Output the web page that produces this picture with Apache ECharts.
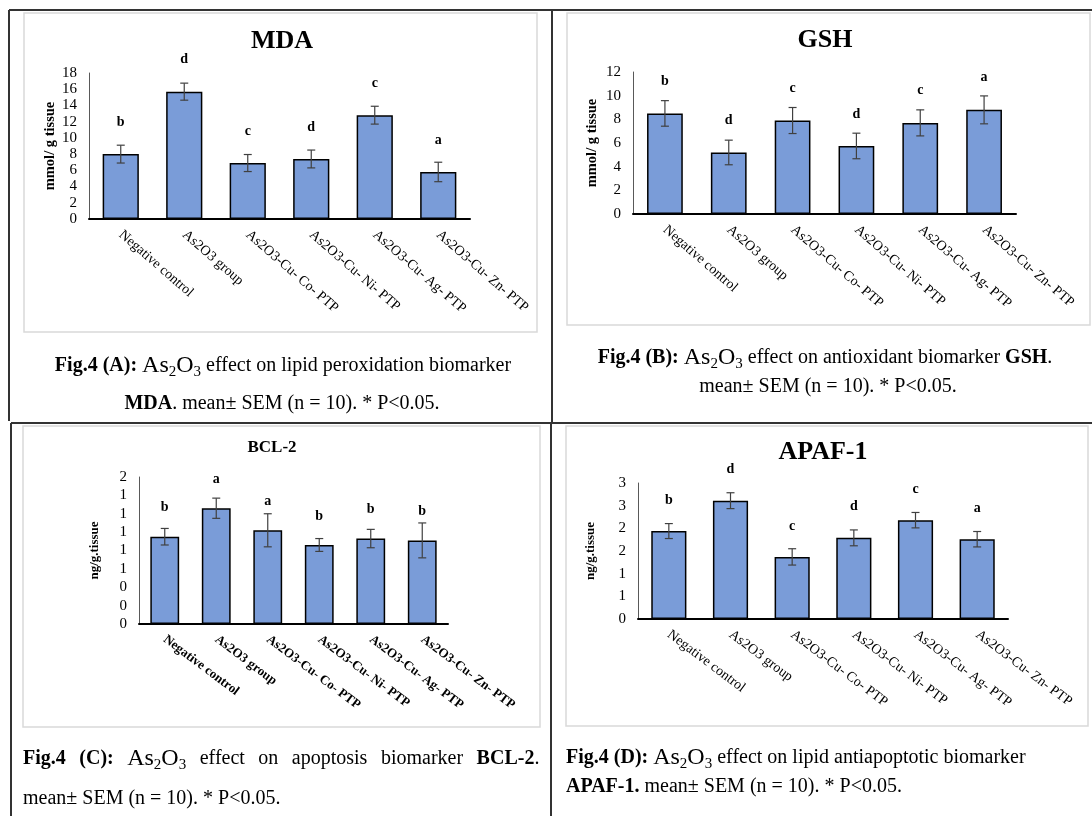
<!DOCTYPE html>
<html>
<head>
<meta charset="utf-8">
<script src="https://cdn.jsdelivr.net/npm/echarts@6/dist/echarts.min.js"></script>
<style>
html,body{margin:0;padding:0;background:#fff;}
#chart{width:1092px;height:816px;}
</style>
</head>
<body>
<div id="chart"></div>
<script>
// ---- data ----
const categories = ['Negative control', 'As2O3 group', 'As2O3-Cu- Co- PTP', 'As2O3-Cu- Ni- PTP', 'As2O3-Cu- Ag- PTP', 'As2O3-Cu- Zn- PTP'];

const mdaMean = [8.0, 15.7, 6.9, 7.4, 12.8, 5.8];
const mdaSem = [1.1, 1.05, 1.05, 1.1, 1.1, 1.2];
const mdaLetters = ['b', 'd', 'c', 'd', 'c', 'a'];

const gshMean = [8.5, 5.2, 7.9, 5.75, 7.7, 8.8];
const gshSem = [1.08, 1.04, 1.1, 1.08, 1.1, 1.18];
const gshLetters = ['b', 'd', 'c', 'd', 'c', 'a'];

const bclMean = [0.95, 1.26, 1.02, 0.86, 0.93, 0.91];
const bclSem = [0.09, 0.11, 0.18, 0.07, 0.10, 0.19];
const bclLetters = ['b', 'a', 'a', 'b', 'b', 'b'];

const apafMean = [1.94, 2.61, 1.37, 1.79, 2.18, 1.76];
const apafSem = [0.165, 0.175, 0.18, 0.175, 0.17, 0.17];
const apafLetters = ['b', 'd', 'c', 'd', 'c', 'a'];

// ---- styling / layout ----
const FONT = "'Liberation Serif', 'Times New Roman', serif";
const BAR = '#7A9CD8';

const panels = [
  {title: 'MDA', titleX: 282, titleY: 41, titleSize: 26, yName: 'mmol/ g tissue', nameGap: 30, nameSize: 14.5,
   grid: {left: 89, top: 73, width: 381, height: 146}, max: 18, interval: 2, round: false,
   mean: mdaMean, sem: mdaSem, letters: mdaLetters, rotate: -41, boldX: false, letterDist: 25, barWidth: '57%'},
  {title: 'GSH', titleX: 825, titleY: 40, titleSize: 26, yName: 'mmol/ g tissue', nameGap: 33, nameSize: 14.5,
   grid: {left: 633, top: 72, width: 383, height: 142}, max: 12, interval: 2, round: false,
   mean: gshMean, sem: gshSem, letters: gshLetters, rotate: -41, boldX: false, letterDist: 25, barWidth: '56%'},
  {title: 'BCL-2', titleX: 272, titleY: 448, titleSize: 17, yName: 'ng/g.tissue', nameGap: 38, nameSize: 13,
   grid: {left: 139, top: 477, width: 309, height: 147}, max: 1.6, interval: 0.2, round: true,
   mean: bclMean, sem: bclSem, letters: bclLetters, rotate: -37, boldX: true, letterDist: 22, barWidth: '56%'},
  {title: 'APAF-1', titleX: 823, titleY: 452, titleSize: 26, yName: 'ng/g.tissue', nameGap: 41, nameSize: 13,
   grid: {left: 638, top: 483, width: 370, height: 136}, max: 3, interval: 0.5, round: true,
   mean: apafMean, sem: apafSem, letters: apafLetters, rotate: -37, boldX: false, letterDist: 24, barWidth: '57%'}
];

const grid = [], xAxis = [], yAxis = [], series = [];
panels.forEach((p, i) => {
  grid.push(Object.assign({containLabel: false}, p.grid));
  xAxis.push({
    type: 'category', gridIndex: i, data: categories,
    axisTick: {show: false},
    axisLine: {lineStyle: {color: '#000', width: 2}},
    axisLabel: {interval: 0, rotate: p.rotate, margin: 14, color: '#000',
      fontFamily: FONT, fontSize: p.boldX ? 13 : 14, fontWeight: p.boldX ? 'bold' : 'normal'}
  });
  yAxis.push({
    type: 'value', gridIndex: i, min: 0, max: p.max, interval: p.interval,
    name: p.yName, nameLocation: 'middle', nameGap: p.nameGap, nameRotate: 90,
    nameTextStyle: {fontFamily: FONT, fontWeight: 'bold', fontSize: p.nameSize, color: '#000'},
    splitLine: {show: false},
    axisTick: {show: false},
    axisLine: {show: true, lineStyle: {color: '#595959', width: 1}},
    axisLabel: {color: '#000', fontFamily: FONT, fontSize: 15, margin: 12,
      formatter: p.round ? (v => String(Math.round(v))) : (v => String(v))}
  });
  series.push({
    type: 'bar', xAxisIndex: i, yAxisIndex: i, data: p.mean, barWidth: p.barWidth,
    itemStyle: {color: BAR, borderColor: '#000', borderWidth: 1.5},
    label: {show: true, position: 'top', distance: p.letterDist, color: '#000',
      fontFamily: FONT, fontWeight: 'bold', fontSize: 14,
      formatter: params => p.letters[params.dataIndex]},
    z: 2
  });
  series.push({
    type: 'custom', xAxisIndex: i, yAxisIndex: i, z: 5,
    data: p.mean.map((m, k) => [k, m, p.sem[k]]),
    renderItem: (params, api) => {
      const k = api.value(0), m = api.value(1), s = api.value(2);
      const top = api.coord([k, m + s]);
      const bot = api.coord([k, m - s]);
      const w = 4;
      const st = {stroke: '#404040', lineWidth: 1.2};
      return {type: 'group', children: [
        {type: 'line', shape: {x1: top[0], y1: top[1], x2: bot[0], y2: bot[1]}, style: st},
        {type: 'line', shape: {x1: top[0] - w, y1: top[1], x2: top[0] + w, y2: top[1]}, style: st},
        {type: 'line', shape: {x1: bot[0] - w, y1: bot[1], x2: bot[0] + w, y2: bot[1]}, style: st}
      ]};
    }
  });
});

// ---- frames, titles, captions ----
const graphic = [];
function line(x1, y1, x2, y2, w, c) {
  graphic.push({type: 'line', shape: {x1, y1, x2, y2}, style: {stroke: c || '#333', lineWidth: w || 2}, silent: true});
}
function box(x, y, w, h) {
  graphic.push({type: 'rect', shape: {x, y, width: w, height: h}, style: {fill: 'none', stroke: '#d9d9d9', lineWidth: 1.5}, silent: true});
}
line(9, 10, 1092, 10, 2);
line(9, 10, 9, 421, 2);
line(552, 10, 552, 423, 2);
line(11, 423, 1092, 423, 2);
line(11, 423, 11, 816, 2);
line(551, 423, 551, 816, 2);
box(24, 13, 513, 319);
box(567, 13, 523, 312);
box(23, 426, 517, 301);
box(566, 426, 522, 300);

panels.forEach(p => {
  graphic.push({type: 'text', x: p.titleX, y: p.titleY, silent: true,
    style: {text: p.title, align: 'center', verticalAlign: 'middle', fill: '#000',
      fontFamily: FONT, fontWeight: 'bold', fontSize: p.titleSize}});
});

const CS = 20;
const rich = {
  b: {fontFamily: FONT, fontWeight: 'bold', fontSize: CS, lineHeight: 28, fill: '#000'},
  n: {fontFamily: FONT, fontSize: CS, lineHeight: 28, fill: '#000'},
  big: {fontFamily: FONT, fontSize: 24, lineHeight: 28, fill: '#000'},
  sub: {fontFamily: FONT, fontSize: 15, lineHeight: 15, verticalAlign: 'bottom', fill: '#000'},
  g: {fontFamily: FONT, fontSize: CS, lineHeight: 28, width: 13.5}
};
const AS = '{big|As}{sub|2}{big|O}{sub|3}';
function caption(x, y, text, align) {
  graphic.push({type: 'text', x, y, silent: true,
    style: {text, rich, align: align || 'center', verticalAlign: 'middle',
      fontFamily: FONT, fontSize: CS, fill: '#000'}});
}
caption(283, 366, '{b|Fig.4 (A):} ' + AS + '{n| effect on lipid peroxidation biomarker}');
caption(282, 404, '{b|MDA}{n|. mean± SEM (n = 10). * P<0.05.}');
caption(825, 358, '{b|Fig.4 (B):} ' + AS + '{n| effect on antioxidant biomarker }{b|GSH}{n|.}');
caption(828, 387, '{n|mean± SEM (n = 10). * P<0.05.}');
caption(23, 759, '{b|Fig.4}{g| }{b|(C):}{g| }' + AS + '{g| }{n|effect}{g| }{n|on}{g| }{n|apoptosis}{g| }{n|biomarker}{g| }{b|BCL-2}{n|.}', 'left');
caption(23, 799, '{n|mean± SEM (n = 10). * P<0.05.}', 'left');
caption(566, 758, '{b|Fig.4 (D):} ' + AS + '{n| effect on lipid antiapoptotic biomarker}', 'left');
caption(566, 787, '{b|APAF-1.}{n| mean± SEM (n = 10). * P<0.05.}', 'left');

const chart = echarts.init(document.getElementById('chart'), null, {renderer: 'canvas'});
chart.setOption({
  animation: false,
  backgroundColor: '#fff',
  grid, xAxis, yAxis, series, graphic
});
</script>
</body>
</html>
